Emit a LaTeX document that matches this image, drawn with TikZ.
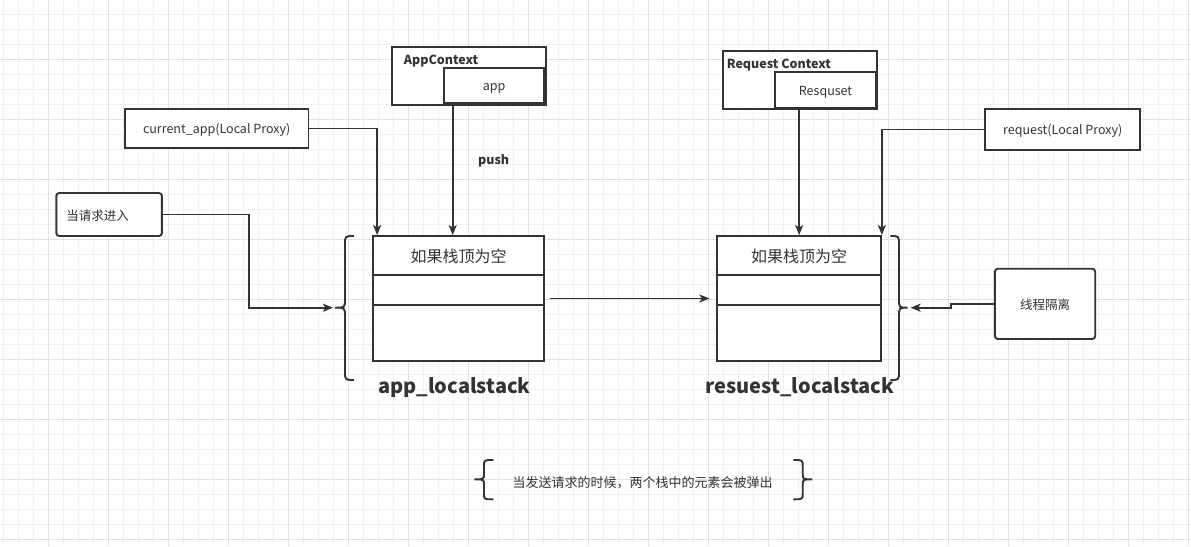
\documentclass[tikz,border=0pt]{standalone}
\usepackage{fontspec}
\usepackage{xcolor}
\usetikzlibrary{arrows.meta, positioning}
\setmainfont{Noto Sans CJK SC}

\definecolor{ink}{HTML}{333333}
\definecolor{gridminor}{HTML}{F1F1F1}
\definecolor{gridmajor}{HTML}{E2E2E2}

\tikzset{
    box/.style={draw=ink, line width=1.9pt, fill=white, text=ink, inner sep=0pt, text height=1.05em, text depth=0pt, font=\fontsize{12.5}{15}\selectfont},
    round box/.style={box, rounded corners=3pt, text height=1.2em},
    title/.style={text=ink, inner sep=0pt, text height=1.05em, text depth=0pt, font=\fontsize{12.5}{15}\selectfont\bfseries},
    stack label/.style={text=ink, inner sep=0pt, text height=1.2em, text depth=0pt, font=\fontsize{20}{24}\selectfont\bfseries},
    conn/.style={draw=ink, line width=1.9pt, -{Stealth[length=10pt, width=8pt, inset=2.5pt]}},
    brace/.style={draw=ink, line width=1.9pt}
}

\begin{document}
\begin{tikzpicture}[x=1pt, y=-1pt]
    \useasboundingbox (0,0) rectangle (1191,546);

    % Grid
    \fill[white] (0,0) rectangle (1191,546);
    \foreach \x in {3,18,...,1191} \draw[gridminor, line width=1pt] (\x,0) -- (\x,546);
    \foreach \y in {14,29,...,546} \draw[gridminor, line width=1pt] (0,\y) -- (1191,\y);
    \foreach \x in {48,108,...,1191} \draw[gridmajor, line width=1pt] (\x,0) -- (\x,546);
    \foreach \y in {59,119,...,546} \draw[gridmajor, line width=1pt] (0,\y) -- (1191,\y);

    % Contexts
    \node[box, minimum width=153.8, minimum height=58.3] (appctx) at (469.2,75.9) {};
    \node[title, anchor=west] (appname) at (403.7,59.3) {AppContext};
    \node[box, minimum width=100.3, minimum height=35.6] (appbox) at (494.05,85.5) {app};

    \node[box, minimum width=154.2, minimum height=58.6] (reqctx) at (799.9,80) {};
    \node[title, anchor=west] (reqname) at (726.6,63.3) {Request Context};
    \node[box, minimum width=101.5, minimum height=36.6] (reqbox) at (825.55,90) {Resquset};

    % Proxies and side notes
    \node[box, minimum width=183.7, minimum height=39] (curapp) at (216.65,128.5) {current\_app(Local Proxy)};
    \node[box, minimum width=155, minimum height=41] (req) at (1062.8,129.5) {request(Local Proxy)};
    \node[round box, text width=85.6, inner xsep=10pt, align=left, minimum height=43] (ask) at (109.1,214.5) {当请求进入};
    \node[round box, minimum width=100.3, minimum height=70.3] (iso) at (1045.05,303.85) {线程隔离};

    % Stacks
    \node[box, minimum width=171.1, minimum height=125] (stackA) at (458.65,298.5) {};
    \node[box, minimum width=163.5, minimum height=125] (stackB) at (799.15,298.5) {};
    \foreach \s in {stackA, stackB} {
        \draw[ink, line width=1.9pt] ([yshift=-40pt]\s.north west) -- ([yshift=-40pt]\s.north east);
        \draw[ink, line width=1.9pt] ([yshift=-70pt]\s.north west) -- ([yshift=-70pt]\s.north east);
        \node[text=ink, inner sep=0pt, text height=1.05em, text depth=0pt, font=\fontsize{16}{18}\selectfont] (\s top) at ([yshift=-22.5pt]\s.north) {如果栈顶为空};
    }
    \node[stack label] (appstack) at (454.5,387.7) {app\_localstack};
    \node[stack label] (reqstack) at (800,387.7) {resuest\_localstack};

    % Braces
    \coordinate (braceA) at (335,307.7);
    \coordinate (braceB) at (907.6,307.7);
    \foreach \ex/\sx/\tx/\ya/\ym/\yb/\r in {354/345/335/236/307.7/380/9, 890.4/899/907.6/236/307.7/380/9,
                                            493.3/484/474.3/460/479.3/499.3/6, 793.3/802.7/812.3/460/479.3/499.3/6} {
        \draw[brace] (\ex,\ya) .. controls (\sx,\ya) .. (\sx,\ya+\r) -- (\sx,\ym-\r)
            .. controls (\sx,\ym) .. (\tx,\ym) .. controls (\sx,\ym) .. (\sx,\ym+\r)
            -- (\sx,\yb-\r) .. controls (\sx,\yb) .. (\ex,\yb);
    }
    \node[text=ink, inner sep=0pt, text height=1.15em, text depth=0pt, font=\fontsize{13}{15}\selectfont] (popnote) at (642.5,481.7) {当发送请求的时候，两个栈中的元素会被弹出};

    % Connectors
    \coordinate (pushA) at (452.7,105);
    \draw[conn] (curapp.east) -| ([xshift=5pt]stackA.north west);
    \draw[conn] (pushA) -- (pushA |- stackA.north);
    \node[title] (pushlabel) at (493.7,159.3) {push};
    \draw[conn] (reqctx.south -| stackB.north) -- (stackB.north);
    \draw[conn] (req.west) -| (stackB.north east);
    \draw[conn, shorten <=5pt, shorten >=7pt] (stackA) -- (stackB);
    \draw[conn, shorten >=2pt] (ask.east) -- ++(86,0) |- (braceA);
    \draw[conn, shorten >=3pt] (iso.west) -- ++(-43.4,0) |- (braceB);
\end{tikzpicture}
\end{document}
